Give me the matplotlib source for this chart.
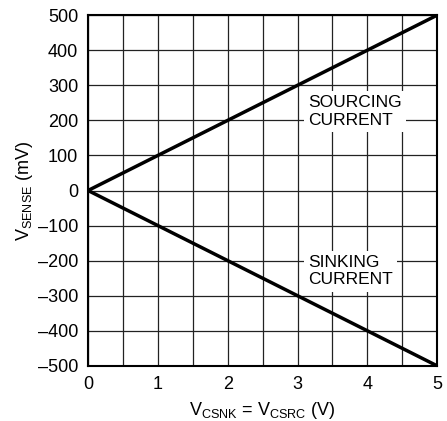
import numpy as np
import matplotlib
matplotlib.use("Agg")
import matplotlib.pyplot as plt

plt.rcParams["font.family"] = ["Liberation Sans Narrow", "Liberation Sans", "DejaVu Sans"]
plt.rcParams["mathtext.fontset"] = "custom"
plt.rcParams["mathtext.rm"] = "Liberation Sans Narrow"
plt.rcParams["mathtext.it"] = "Liberation Sans Narrow"

# V_CSNK = V_CSRC (V) vs V_SENSE (mV)
vcs = [0, 1, 2, 3, 4, 5]
sourcing = [0, 100, 200, 300, 400, 500]
sinking = [0, -100, -200, -300, -400, -500]

fig = plt.figure(figsize=(4.47, 4.21), dpi=100)
ax = fig.add_axes([0.197, 0.131, 0.781, 0.833])

ax.plot(vcs, sourcing, color="black", lw=2.5, zorder=3)
ax.plot(vcs, sinking, color="black", lw=2.5, zorder=3)

ax.set_xlim(0, 5)
ax.set_ylim(-500, 500)
ax.set_xticks(np.arange(0, 6, 1))
ax.set_xticks(np.arange(0, 5.01, 0.5), minor=True)
ax.set_yticks(np.arange(-500, 501, 100))
ax.set_yticklabels([str(v).replace("-", "\u2013") for v in range(-500, 501, 100)])
ax.grid(True, which="both", color="#222222", lw=0.9)
ax.tick_params(which="both", length=0, labelsize=13, pad=7)
for s in ax.spines.values():
    s.set_linewidth(1.5)

box = dict(facecolor="white", edgecolor="none", pad=3)
ax.text(3.15, 225, "SOURCING\nCURRENT", fontsize=12.5, va="center", ha="left",
        linespacing=1.2, bbox=box, zorder=4)
ax.text(3.15, -230, "SINKING\nCURRENT", fontsize=12.5, va="center", ha="left",
        linespacing=1.2, bbox=box, zorder=4)

ax.set_xlabel(r"$\mathregular{V_{CSNK}}$ = $\mathregular{V_{CSRC}}$ (V)", fontsize=13, labelpad=5)
ax.set_ylabel(r"$\mathregular{V_{SENSE}}$ (mV)", fontsize=13, labelpad=2)

fig.savefig("out.png", dpi=100)
